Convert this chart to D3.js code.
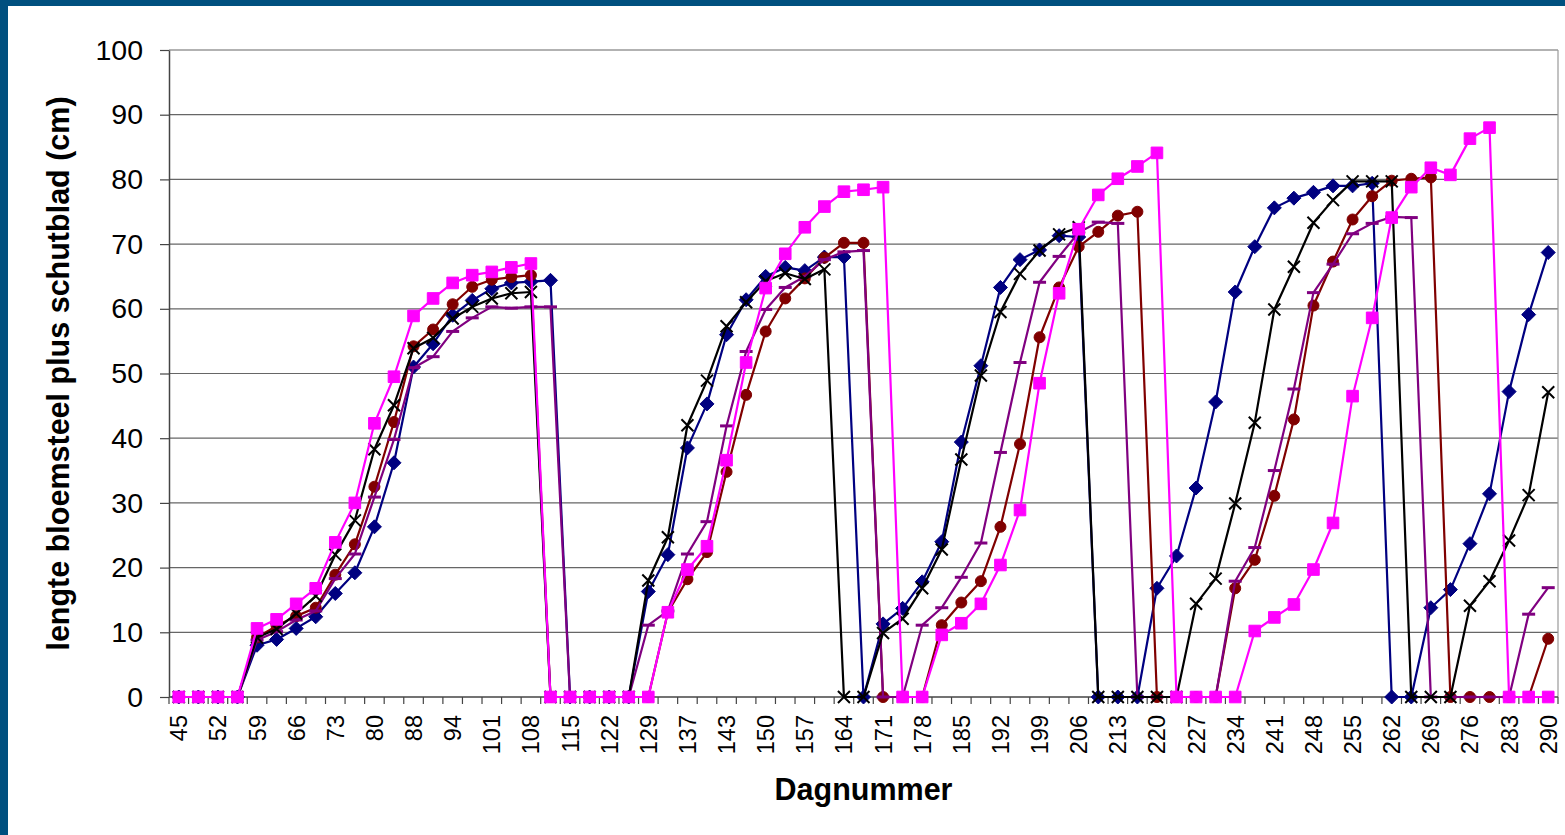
<!DOCTYPE html>
<html>
<head>
<meta charset="utf-8">
<script src="https://cdn.jsdelivr.net/npm/d3@7"></script>
<style>
  html, body { margin: 0; padding: 0; background: #ffffff; }
  svg { display: block; font-family: "Liberation Sans", Arial, sans-serif; }
</style>
</head>
<body>
<svg id="chart" width="1565" height="835"></svg>
<script>
// ---- data ----
const days = [45,49,52,56,59,63,66,70,73,77,80,84,88,91,94,98,101,105,108,112,115,119,122,126,129,133,137,140,143,147,150,154,157,161,164,168,171,175,178,182,185,189,192,196,199,203,206,210,213,217,220,224,227,231,234,238,241,245,248,252,255,259,262,266,269,273,276,280,283,287,290];

const labelledDays = [45,52,59,66,73,80,88,94,101,108,115,122,129,137,143,150,157,164,171,178,185,192,199,206,213,220,227,234,241,248,255,262,269,276,283,290];

const yTicks = [0,10,20,30,40,50,60,70,80,90,100];

const navy = [0,0,0,0,8.0,8.9,10.6,12.4,16.0,19.2,26.3,36.2,51.0,54.6,59.0,61.3,63.1,64.0,64.2,64.4,0,0,0,0,16.3,22.0,38.5,45.3,56.0,61.4,65.0,66.4,65.9,68.0,68.0,0,11.3,13.7,17.8,24.0,39.4,51.2,63.3,67.6,69.1,71.3,71.1,0,0,0,16.8,21.8,32.3,45.6,62.6,69.6,75.6,77.1,78.0,79.0,79.0,79.4,0,0,13.8,16.6,23.7,31.4,47.2,59.1,68.7];

const black = [0,0,0,0,9.2,10.5,12.9,15.6,22.0,27.3,38.3,45.1,53.9,55.5,58.5,60.3,61.6,62.4,62.6,0,0,0,0,0,18.0,24.7,42.0,48.9,57.3,61.0,64.3,65.5,64.6,66.1,0,0,9.9,12.1,16.8,22.8,36.7,49.7,59.5,65.4,69.0,71.5,72.6,0,0,0,0,0,14.4,18.3,29.9,42.4,59.9,66.5,73.3,76.8,79.7,79.7,79.7,0,0,0,14.1,17.9,24.2,31.2,47.1];

const darkred = [0,0,0,0,9.2,11.0,12.5,13.8,18.9,23.6,32.5,42.5,54.2,56.8,60.7,63.4,64.5,64.9,65.2,0,0,0,0,0,0,13.1,18.2,22.4,34.8,46.7,56.5,61.6,64.7,67.9,70.2,70.2,0,0,0,11.1,14.6,17.9,26.3,39.1,55.6,63.3,69.6,71.9,74.4,75.0,0,0,0,0,16.8,21.2,31.1,42.9,60.5,67.3,73.8,77.4,79.8,80.1,80.3,0,0,0,0,0,9.0];

const purple = [0,0,0,0,8.8,10.1,11.9,13.3,18.3,22.1,30.9,39.8,50.9,52.6,56.5,58.6,60.3,60.1,60.3,60.3,0,0,0,0,11.1,13.3,22.1,27.1,41.9,53.4,59.9,63.3,65.0,67.6,68.8,69.0,0,0,11.1,13.8,18.5,23.8,37.8,51.7,64.1,68.1,71.8,73.4,73.2,0,0,0,0,0,17.9,23.1,35.0,47.6,62.5,66.9,71.6,73.2,74.2,74.1,0,0,0,0,0,12.8,16.9];

const magenta = [0,0,0,0,10.6,12.0,14.4,16.8,23.9,30.0,42.3,49.5,58.9,61.6,64.0,65.2,65.7,66.4,67.0,0,0,0,0,0,0,13.1,19.7,23.3,36.6,51.7,63.2,68.5,72.6,75.8,78.1,78.4,78.8,0,0,9.6,11.4,14.4,20.4,28.9,48.5,62.4,72.3,77.6,80.1,82.0,84.1,0,0,0,0,10.2,12.3,14.3,19.7,26.9,46.5,58.6,74.1,78.8,81.8,80.7,86.3,88.0,0,0,0];

// drawing order: bottom -> top
const seriesList = [
  { name: "navy",    values: navy,    color: "#000080", marker: "diamond" },
  { name: "darkred", values: darkred, color: "#800000", marker: "circle" },
  { name: "purple",  values: purple,  color: "#800080", marker: "dash" },
  { name: "black",   values: black,   color: "#000000", marker: "x" },
  { name: "magenta", values: magenta, color: "#FF00FF", marker: "square" }
];

// ---- layout ----
const W = 1565, H = 835;
const plot = { left: 169, right: 1558, top: 50, bottom: 697 };

const svg = d3.select("#chart");

// frame bands
svg.append("rect").attr("x", 0).attr("y", 0).attr("width", W).attr("height", 6).attr("fill", "#00507F");
svg.append("rect").attr("x", 0).attr("y", 0).attr("width", 8).attr("height", H).attr("fill", "#00507F");

const x = d3.scaleBand().domain(days).range([plot.left, plot.right]).padding(0);
const y = d3.scaleLinear().domain([0, 100]).range([plot.bottom, plot.top]);
const cx = d => x(d) + x.bandwidth() / 2;

// gridlines
svg.append("g").selectAll("line").data(yTicks.filter(v => v > 0)).join("line")
  .attr("x1", plot.left).attr("x2", plot.right)
  .attr("y1", d => y(d)).attr("y2", d => y(d))
  .attr("stroke", "#666").attr("stroke-width", 1.2);

// right border
svg.append("line").attr("x1", plot.right).attr("x2", plot.right)
  .attr("y1", plot.top).attr("y2", plot.bottom).attr("stroke", "#999").attr("stroke-width", 1.2);

// y axis
const yAxis = svg.append("g").attr("transform", `translate(${plot.left},0)`)
  .call(d3.axisLeft(y).tickValues(yTicks).tickSize(9).tickPadding(17).tickSizeOuter(0));
yAxis.select(".domain").attr("stroke", "#444").attr("stroke-width", 1.5);
yAxis.selectAll(".tick line").attr("stroke", "#444").attr("stroke-width", 1.2);
yAxis.selectAll("text").attr("font-size", 28.5).attr("fill", "#000")
  .attr("font-family", "'Liberation Sans', Arial, sans-serif");

// x axis: boundary ticks for each category
const xg = svg.append("g");
const bounds = days.map(d => x(d)).concat([plot.right]);
xg.selectAll("line.b").data(bounds).join("line")
  .attr("x1", d => d).attr("x2", d => d)
  .attr("y1", plot.bottom).attr("y2", plot.bottom + 7)
  .attr("stroke", "#444").attr("stroke-width", 1.2);
xg.append("line").attr("x1", plot.left).attr("x2", plot.right)
  .attr("y1", plot.bottom).attr("y2", plot.bottom)
  .attr("stroke", "#444").attr("stroke-width", 1.5);

const xAxis = svg.append("g").attr("transform", `translate(0,${plot.bottom})`)
  .call(d3.axisBottom(x).tickValues(labelledDays).tickSize(0).tickSizeOuter(0));
xAxis.select(".domain").remove();
xAxis.selectAll("text")
  .attr("transform", "rotate(-90)")
  .attr("text-anchor", "end")
  .attr("x", -18).attr("y", 0).attr("dy", "0.36em")
  .attr("font-size", 23.5).attr("fill", "#000")
  .attr("font-family", "'Liberation Sans', Arial, sans-serif");

// axis titles
svg.append("text").attr("x", (plot.left + plot.right) / 2).attr("y", 800)
  .attr("text-anchor", "middle").attr("font-weight", "bold").attr("font-size", 30.5)
  .text("Dagnummer");
svg.append("text")
  .attr("transform", `translate(69,${(plot.top + plot.bottom) / 2}) rotate(-90)`)
  .attr("text-anchor", "middle").attr("font-weight", "bold").attr("font-size", 30.5)
  .text("lengte bloemsteel plus schutblad (cm)");

// markers
function markerPath(type) {
  switch (type) {
    case "diamond": return "M0,-7L7,0L0,7L-7,0Z";
    case "square":  return "M-5.8,-5.8H5.8V5.8H-5.8Z";
    case "circle":  return "M5.5,0A5.5,5.5 0 1,1 -5.5,0A5.5,5.5 0 1,1 5.5,0Z";
    case "x":       return "M-6,-6L6,6M-6,6L6,-6";
    case "dash":    return "M-6.5,-1.5H6.5V1.5H-6.5Z";
  }
}

const line = d3.line().x((v, i) => cx(days[i])).y(v => y(v));

const sg = svg.append("g");
seriesList.forEach(s => {
  const g = sg.append("g");
  g.append("path").datum(s.values).attr("d", line)
    .attr("fill", "none").attr("stroke", s.color).attr("stroke-width", 2.2)
    .attr("stroke-linejoin", "round");
  g.selectAll("path.m").data(s.values).join("path")
    .attr("class", "m")
    .attr("transform", (v, i) => `translate(${cx(days[i])},${y(v)})`)
    .attr("d", markerPath(s.marker))
    .attr("fill", s.marker === "x" ? "none" : s.color)
    .attr("stroke", s.color)
    .attr("stroke-width", s.marker === "x" ? 2 : (s.marker === "dash" ? 0 : 1));
});
</script>
</body>
</html>
